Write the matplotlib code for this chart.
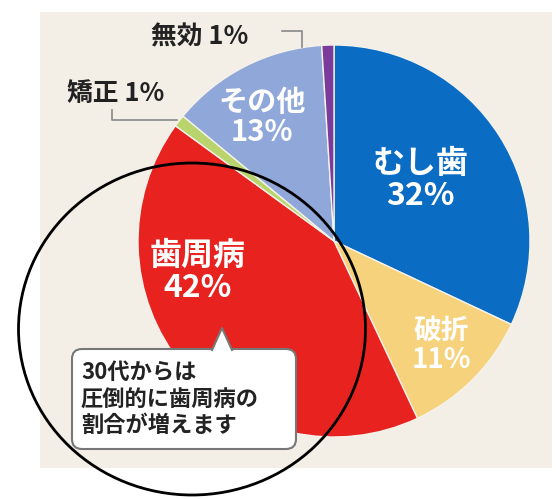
import matplotlib
matplotlib.use("Agg")
import matplotlib.pyplot as plt
from matplotlib.patches import Rectangle, Ellipse, FancyBboxPatch, Polygon

plt.rcParams['font.family'] = ['Noto Sans CJK JP', 'DejaVu Sans']

# ── Data ──────────────────────────────────────────────────────────────────────
labels = ["むし歯", "破折", "歯周病", "矯正", "その他", "無効"]
shares = [32, 11, 42, 1, 13, 1]
colors = ["#0a6cc2", "#f6d27c", "#e8231f", "#b9d46c", "#8fa7d9", "#7b3b9c"]
note = "30代からは\n圧倒的に歯周病の\n割合が増えます"

# label placement (pixel coords of the picture)
inner_pos = {"むし歯": (420, 180), "破折": (441, 346), "歯周病": (198, 272), "その他": (262, 117)}
inner_size = {"むし歯": 23, "破折": 20, "歯周病": 23, "その他": 21}
outer_pos = {"無効": (200, 37), "矯正": (116, 93)}

# ── Plot ──────────────────────────────────────────────────────────────────────
fig = plt.figure(figsize=(5.56, 4.99), dpi=100)
ax = fig.add_axes([0, 0, 1, 1])
ax.set_xlim(0, 556)
ax.set_ylim(499, 0)
ax.set_aspect("equal")
ax.axis("off")

ax.add_patch(Rectangle((40, 12), 512, 456, facecolor="#f3efe7", edgecolor="none", zorder=0))

ax.pie(shares, colors=colors, center=(334, 241), radius=196,
       startangle=-90, counterclock=True,
       wedgeprops=dict(edgecolor="#f4f2ea", linewidth=1.0))
ax.set_xlim(0, 556)
ax.set_ylim(499, 0)

for lab, val in zip(labels, shares):
    if lab in inner_pos:
        x, y = inner_pos[lab]
        ax.text(x, y, f"{lab}\n{val}%", color="white", fontsize=inner_size[lab],
                fontweight="bold", ha="center", va="center", linespacing=1.02, zorder=5)
    else:
        x, y = outer_pos[lab]
        ax.text(x, y, f"{lab} {val}%", color="#222222", fontsize=18.5,
                fontweight="bold", ha="center", va="center", zorder=5)

# leader brackets
ax.plot([282, 302, 302], [31, 31, 47], color="#888888", lw=1.2, zorder=4)
ax.plot([112, 112, 177], [110, 120, 120], color="#888888", lw=1.2, zorder=4)

# highlight circle
ax.add_patch(Ellipse((192, 329), 347, 332, facecolor="none", edgecolor="black",
                     linewidth=2.0, zorder=6))

# callout box
ax.add_patch(FancyBboxPatch((72, 349), 224, 100, boxstyle="round,pad=0,rounding_size=10",
                            facecolor="white", edgecolor="#777777", linewidth=1.5, zorder=7))
ax.add_patch(Polygon([(212, 352), (222, 328), (232, 352)], closed=True,
                     facecolor="white", edgecolor="none", zorder=8))
ax.plot([212, 222, 232], [350, 328, 350], color="#777777", lw=1.5, zorder=8)
ax.text(81, 399, note, color="#222222", fontsize=16, fontweight="bold",
        ha="left", va="center", linespacing=1.18, zorder=9)

fig.savefig("out.png", dpi=100)
